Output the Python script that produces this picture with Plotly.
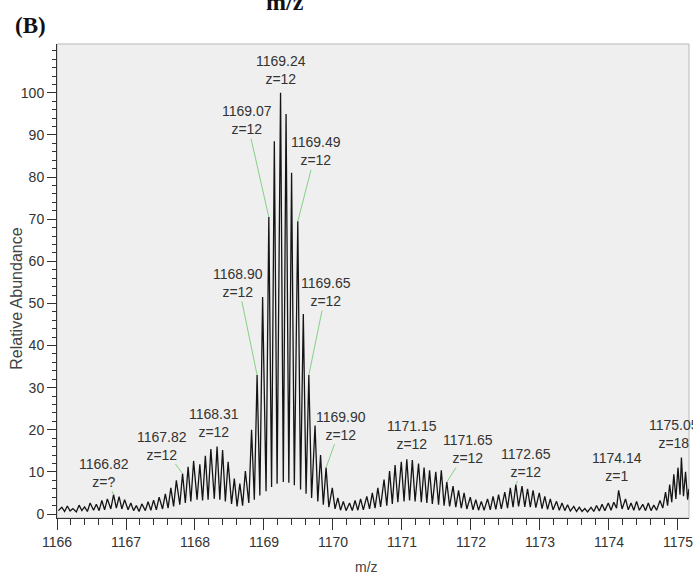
import plotly.graph_objects as go

# ---------------- data ----------------
peak_mz = [
    1166.07, 1166.15, 1166.23, 1166.32, 1166.40, 1166.48, 1166.57, 1166.65,
    1166.73, 1166.82, 1166.90, 1166.98, 1167.07, 1167.15, 1167.23, 1167.32,
    1167.40, 1167.48, 1167.57, 1167.65, 1167.73, 1167.82, 1167.90, 1167.98,
    1168.07, 1168.15, 1168.23, 1168.32, 1168.40, 1168.48, 1168.57, 1168.65,
    1168.73, 1168.82, 1168.90, 1168.98, 1169.07, 1169.15, 1169.24, 1169.32,
    1169.40, 1169.49, 1169.57, 1169.65, 1169.74, 1169.82, 1169.90, 1169.99,
    1170.07, 1170.15, 1170.24, 1170.32, 1170.40, 1170.49, 1170.57, 1170.65,
    1170.74, 1170.82, 1170.90, 1170.99, 1171.07, 1171.15, 1171.24, 1171.32,
    1171.40, 1171.49, 1171.57, 1171.65, 1171.74, 1171.82, 1171.90, 1171.99,
    1172.07, 1172.15, 1172.24, 1172.32, 1172.40, 1172.49, 1172.57, 1172.65,
    1172.74, 1172.82, 1172.90, 1172.99, 1173.07, 1173.15, 1173.24, 1173.32,
    1173.40, 1173.49, 1173.57, 1173.65, 1173.74, 1173.82, 1173.90, 1173.99,
    1174.07, 1174.14, 1174.24, 1174.32, 1174.40, 1174.49, 1174.57, 1174.65,
    1174.74, 1174.82, 1174.88, 1174.94, 1175.00, 1175.05, 1175.11, 1175.16,
]
peak_int = [
    1.6, 1.9, 1.3, 2.1, 1.7, 2.6, 2.3, 3.2,
    3.6, 4.6, 4.1, 3.4, 2.6, 2.0, 2.4, 2.9,
    3.3, 4.0, 4.8, 6.2, 8.0, 9.6, 11.2, 12.6,
    11.8, 13.8, 15.4, 16.0, 15.2, 12.4, 8.4, 7.2,
    10.2, 20.0, 33.0, 51.5, 70.5, 88.5, 100.0, 95.0,
    81.0, 69.5, 47.5, 33.0, 21.0, 14.0, 11.0, 6.2,
    3.8, 3.0, 2.6, 3.2, 3.6, 4.2, 5.0, 6.2,
    8.2, 10.2, 11.6, 12.4, 13.0, 12.8, 12.0, 11.0,
    10.4, 10.0, 10.4, 7.6, 6.6, 5.6, 5.0, 4.0,
    3.4, 3.0, 3.6, 4.2, 4.6, 5.2, 6.2, 7.0,
    6.6, 6.0, 5.6, 5.0, 4.2, 3.6, 3.0, 2.6,
    2.2, 1.8, 1.6, 1.3, 1.6, 2.0, 2.3, 2.6,
    2.8, 5.6, 3.6, 2.6, 3.0, 2.3, 2.6, 2.1,
    3.2, 5.2, 7.0, 9.4, 11.0, 13.4, 10.0, 6.0,
]
valley_mz = [
    1166.02, 1166.11, 1166.19, 1166.28, 1166.36, 1166.44, 1166.53, 1166.61,
    1166.69, 1166.78, 1166.86, 1166.94, 1167.03, 1167.11, 1167.19, 1167.28,
    1167.36, 1167.44, 1167.53, 1167.61, 1167.69, 1167.78, 1167.86, 1167.94,
    1168.03, 1168.11, 1168.19, 1168.28, 1168.36, 1168.44, 1168.53, 1168.61,
    1168.69, 1168.78, 1168.86, 1168.94, 1169.03, 1169.11, 1169.19, 1169.28,
    1169.36, 1169.44, 1169.53, 1169.61, 1169.69, 1169.78, 1169.86, 1169.94,
    1170.03, 1170.11, 1170.19, 1170.28, 1170.36, 1170.44, 1170.53, 1170.61,
    1170.69, 1170.78, 1170.86, 1170.94, 1171.03, 1171.11, 1171.19, 1171.28,
    1171.36, 1171.44, 1171.53, 1171.61, 1171.69, 1171.78, 1171.86, 1171.94,
    1172.03, 1172.11, 1172.19, 1172.28, 1172.36, 1172.44, 1172.53, 1172.61,
    1172.69, 1172.78, 1172.86, 1172.94, 1173.03, 1173.11, 1173.19, 1173.28,
    1173.36, 1173.44, 1173.53, 1173.61, 1173.69, 1173.78, 1173.86, 1173.94,
    1174.03, 1174.11, 1174.19, 1174.28, 1174.36, 1174.44, 1174.53, 1174.61,
    1174.69, 1174.78, 1174.85, 1174.91, 1174.97, 1175.03, 1175.08, 1175.14,
]
valley_int = [
    0.8, 0.6, 0.7, 0.5, 0.8, 0.6, 0.9, 0.8,
    1.0, 1.2, 1.4, 1.2, 1.0, 0.8, 0.6, 0.8,
    0.9, 1.0, 1.2, 1.4, 1.8, 2.2, 2.6, 3.0,
    3.4, 3.2, 3.4, 3.6, 3.4, 3.0, 2.4, 1.8,
    2.0, 2.6, 3.4, 4.4, 5.4, 6.4, 7.2, 7.6,
    7.4, 6.8, 5.8, 4.8, 3.8, 3.0, 2.2, 1.6,
    1.2, 0.9, 0.8, 0.8, 0.9, 1.0, 1.2, 1.4,
    1.7, 2.0, 2.4, 2.8, 3.0, 3.2, 3.0, 2.8,
    2.6, 2.4, 2.2, 2.0, 1.8, 1.6, 1.4, 1.2,
    1.0, 0.9, 0.9, 1.0, 1.1, 1.2, 1.4, 1.6,
    1.8, 1.7, 1.6, 1.5, 1.3, 1.1, 1.0, 0.9,
    0.8, 0.7, 0.6, 0.6, 0.5, 0.6, 0.7, 0.8,
    0.9, 1.4, 1.2, 1.0, 0.9, 0.9, 0.8, 0.8,
    0.9, 1.4, 2.0, 2.8, 3.6, 4.6, 4.2, 3.4,
]

# peak labels
label_mz = [1169.24, 1169.07, 1169.49, 1168.90, 1169.65, 1169.90,
            1168.32, 1167.82, 1166.82, 1171.15, 1171.65, 1172.65,
            1174.14, 1175.05]
label_text = ["1169.24", "1169.07", "1169.49", "1168.90", "1169.65", "1169.90",
              "1168.31", "1167.82", "1166.82", "1171.15", "1171.65", "1172.65",
              "1174.14", "1175.05"]
label_z = ["z=12", "z=12", "z=12", "z=12", "z=12", "z=12",
           "z=12", "z=12", "z=?", "z=12", "z=12", "z=12",
           "z=1", "z=18"]

x_ticks = [1166, 1167, 1168, 1169, 1170, 1171, 1172, 1173, 1174, 1175]
y_ticks = [0, 10, 20, 30, 40, 50, 60, 70, 80, 90, 100]

assert len(peak_mz) == len(peak_int) == len(valley_mz) == len(valley_int)

# ---------------- styling ----------------
SANS = "Liberation Sans, Arial, sans-serif"
SERIF = "Liberation Serif, Times New Roman, serif"
TXT = "#333333"
GREEN = "#86cf86"
LBL = 14

# arrow offsets (pixels) for labels that point with a green leader line
arrow_style = {
    "1169.07": (-22, -97), "1169.49": (18, -70), "1168.90": (-19, -92),
    "1169.65": (17, -83), "1169.90": (15, -42), "1167.82": (-21, -28),
    "1166.82": (-10, -22), "1171.65": (21, -33), "1172.65": (10, -22),
}
# label shifts for labels placed straight above their peak
above_style = {
    "1169.24": (0, 4), "1168.31": (-3, 5), "1171.15": (0, 6),
    "1174.14": (-2, 4), "1175.05": (-7, 5),
}

# profile: merge peaks and valleys in m/z order
pts = sorted(list(zip(peak_mz, peak_int)) + list(zip(valley_mz, valley_int)))
prof_x = [p[0] for p in pts]
prof_y = [p[1] for p in pts]

fig = go.Figure()
fig.add_trace(go.Scatter(x=prof_x, y=prof_y, mode="lines",
                         line=dict(color="#141414", width=1.3),
                         hoverinfo="skip"))

lookup = dict(zip(peak_mz, peak_int))
annotations = []
for mz, t, z in zip(label_mz, label_text, label_z):
    yv = lookup.get(mz, 0)
    txt = f"{t}<br>{z}"
    if t in arrow_style:
        ax, ay = arrow_style[t]
        annotations.append(dict(x=mz, y=yv, xref="x", yref="y", text=txt,
                                showarrow=True, arrowhead=0, arrowwidth=1,
                                arrowcolor=GREEN, ax=ax, ay=ay, standoff=0,
                                font=dict(family=SANS, size=LBL, color=TXT)))
    else:
        xs, ys = above_style[t]
        annotations.append(dict(x=mz, y=yv, xref="x", yref="y", text=txt,
                                showarrow=False, yanchor="bottom",
                                xshift=xs, yshift=ys,
                                font=dict(family=SANS, size=LBL, color=TXT)))

# panel texts
annotations += [
    dict(x=0.36, y=1.089, xref="paper", yref="paper", text="<b>m/z</b>",
         showarrow=False, font=dict(family=SERIF, size=24, color="#111"),
         xanchor="center", yanchor="middle"),
    dict(x=-0.0425, y=1.040, xref="paper", yref="paper", text="<b>(B)</b>",
         showarrow=False, font=dict(family=SERIF, size=23, color="#111"),
         xanchor="center", yanchor="middle"),
    dict(x=-0.0653, y=0.462, xref="paper", yref="paper", text="Relative Abundance",
         showarrow=False, textangle=-90, font=dict(family=SANS, size=16, color="#444"),
         xanchor="center", yanchor="middle"),
    dict(x=0.489, y=-0.103, xref="paper", yref="paper", text="m/z",
         showarrow=False, font=dict(family=SANS, size=14, color="#444"),
         xanchor="center", yanchor="middle"),
]

fig.update_layout(
    width=693, height=576,
    margin=dict(l=57, r=0, t=44, b=58),
    paper_bgcolor="white", plot_bgcolor="#efefef",
    showlegend=False,
    annotations=annotations,
    shapes=[dict(type="rect", xref="paper", yref="paper", x0=0, x1=1, y0=0, y1=1,
                 line=dict(color="#b8b8b8", width=1), layer="below")],
)
fig.update_xaxes(
    range=[1166.0, 1175.16], tickmode="array", tickvals=x_ticks,
    ticktext=[str(v) for v in x_ticks],
    ticks="outside", ticklen=11, tickwidth=1, tickcolor="#333",
    showline=True, linecolor="#333", linewidth=1,
    showgrid=False, zeroline=False, ticklabeloverflow="allow",
    tickfont=dict(family=SANS, size=14, color=TXT),
    minor=dict(ticks="outside", ticklen=6, tickwidth=1, tickcolor="#333",
               dtick=0.2, tick0=1166, showgrid=False),
)
fig.update_yaxes(
    range=[-0.95, 111.6], tickmode="array", tickvals=y_ticks,
    ticktext=[str(v) for v in y_ticks],
    ticks="outside", ticklen=9, tickwidth=1, tickcolor="#333",
    showline=True, linecolor="#333", linewidth=1,
    showgrid=False, zeroline=False,
    tickfont=dict(family=SANS, size=14, color=TXT),
    minor=dict(ticks="outside", ticklen=4, tickwidth=1, tickcolor="#333",
               dtick=2, tick0=0, showgrid=False),
)

fig.write_html("out.html")
